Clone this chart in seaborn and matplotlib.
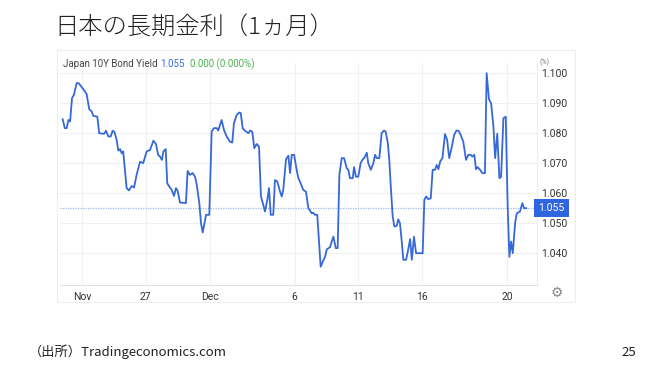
import numpy as np
import pandas as pd
import matplotlib
matplotlib.use("Agg")
import matplotlib.pyplot as plt
import matplotlib.transforms as mtransforms
from matplotlib.patches import Rectangle
import seaborn as sns

# ---- data (x = trading-day index, 0 = Nov 22; y = yield %) ----
days = [-0.91, -0.81, -0.72, -0.64, -0.56, -0.47, -0.38, -0.25, -0.16, 0.06,
        0.22, 0.34, 0.46, 0.53, 0.72, 0.81, 1.04, 1.13, 1.24, 1.35,
        1.44, 1.52, 1.63, 1.71, 1.79, 1.87, 1.94, 2.02, 2.10, 2.21,
        2.34, 2.45, 2.57, 2.73, 2.88, 3.04, 3.20, 3.36, 3.48, 3.58,
        3.67, 3.76, 3.83, 3.94, 4.01, 4.11, 4.22, 4.33, 4.42, 4.50,
        4.61, 4.89, 4.97, 5.08, 5.21, 5.32, 5.40, 5.52, 5.60, 5.68,
        5.84, 5.99, 6.10, 6.21, 6.34, 6.41, 6.57, 6.68, 6.81, 6.96,
        7.07, 7.15, 7.28, 7.40, 7.47, 7.56, 7.67, 7.83, 7.91, 8.01,
        8.11, 8.22, 8.33, 8.42, 8.53, 8.61, 8.72, 8.80, 8.88, 9.00,
        9.08, 9.19, 9.32, 9.40, 9.47, 9.60, 9.71, 9.79, 9.87, 9.98,
        10.10, 10.18, 10.29, 10.41, 10.54, 10.65, 10.73, 10.81, 10.88, 10.96,
        11.07, 11.23, 11.33, 11.44, 11.52, 11.67, 11.75, 11.83, 11.94, 12.03,
        12.11, 12.22, 12.33, 12.46, 12.53, 12.61, 12.74, 12.80, 12.89, 13.00,
        13.11, 13.21, 13.28, 13.40, 13.47, 13.59, 13.71, 13.79, 13.87, 13.99,
        14.10, 14.21, 14.29, 14.39, 14.46, 14.53, 14.62, 14.70, 14.81, 14.88,
        14.96, 15.04, 15.12, 15.25, 15.33, 15.44, 15.52, 15.62, 15.72, 16.03,
        16.11, 16.19, 16.30, 16.41, 16.50, 16.61, 16.69, 16.77, 16.85, 16.96,
        17.08, 17.18, 17.28, 17.40, 17.51, 17.62, 17.72, 17.82, 17.94, 18.07,
        18.18, 18.29, 18.37, 18.46, 18.54, 18.62, 18.73, 18.84, 18.96, 19.04,
        19.15, 19.25, 19.36, 19.44, 19.54, 19.64, 19.72, 19.83, 19.94, 20.03,
        20.11, 20.19, 20.27, 20.38, 20.46, 20.61, 20.72, 20.80, 20.92]
yields = [1.0847, 1.0817, 1.0817, 1.0844, 1.0839, 1.0917, 1.0928, 1.0967, 1.0967, 1.0947,
          1.0930, 1.0880, 1.0872, 1.0858, 1.0855, 1.0800, 1.0798, 1.0808, 1.0789, 1.0789,
          1.0808, 1.0805, 1.0778, 1.0742, 1.0747, 1.0733, 1.0739, 1.0678, 1.0617, 1.0609,
          1.0624, 1.0619, 1.0661, 1.0705, 1.0700, 1.0739, 1.0744, 1.0775, 1.0764, 1.0728,
          1.0722, 1.0711, 1.0739, 1.0747, 1.0633, 1.0622, 1.0611, 1.0591, 1.0617, 1.0608,
          1.0569, 1.0567, 1.0674, 1.0661, 1.0667, 1.0655, 1.0628, 1.0567, 1.0500, 1.0469,
          1.0528, 1.0528, 1.0805, 1.0817, 1.0817, 1.0809, 1.0844, 1.0811, 1.0789, 1.0772,
          1.0769, 1.0833, 1.0861, 1.0869, 1.0867, 1.0817, 1.0808, 1.0800, 1.0809, 1.0805,
          1.0750, 1.0764, 1.0755, 1.0589, 1.0561, 1.0539, 1.0578, 1.0617, 1.0528, 1.0528,
          1.0644, 1.0639, 1.0605, 1.0589, 1.0611, 1.0713, 1.0725, 1.0667, 1.0728, 1.0728,
          1.0678, 1.0650, 1.0633, 1.0611, 1.0605, 1.0550, 1.0542, 1.0533, 1.0535, 1.0528,
          1.0528, 1.0355, 1.0372, 1.0389, 1.0413, 1.0420, 1.0439, 1.0455, 1.0417, 1.0417,
          1.0661, 1.0717, 1.0717, 1.0683, 1.0678, 1.0650, 1.0650, 1.0687, 1.0655, 1.0655,
          1.0700, 1.0713, 1.0717, 1.0735, 1.0700, 1.0678, 1.0700, 1.0728, 1.0717, 1.0717,
          1.0800, 1.0809, 1.0805, 1.0767, 1.0711, 1.0622, 1.0522, 1.0489, 1.0491, 1.0513,
          1.0500, 1.0444, 1.0378, 1.0378, 1.0405, 1.0447, 1.0378, 1.0455, 1.0400, 1.0400,
          1.0578, 1.0589, 1.0580, 1.0583, 1.0678, 1.0678, 1.0694, 1.0680, 1.0705, 1.0717,
          1.0797, 1.0778, 1.0717, 1.0754, 1.0794, 1.0809, 1.0808, 1.0794, 1.0772, 1.0711,
          1.0728, 1.0728, 1.0722, 1.0728, 1.0680, 1.0687, 1.0678, 1.0667, 1.0667, 1.1000,
          1.0913, 1.0900, 1.0822, 1.0717, 1.0798, 1.0650, 1.0655, 1.0850, 1.0855, 1.0555,
          1.0388, 1.0439, 1.0400, 1.0500, 1.0533, 1.0539, 1.0567, 1.0550, 1.0550]

tick_days = [0, 3, 6, 10, 13, 16, 20]
tick_labels = ["Nov", "27", "Dec", "6", "11", "16", "20"]
y_ticks = [1.040, 1.050, 1.060, 1.070, 1.080, 1.090, 1.100]
last_value = 1.055

title = "日本の長期金利（1ヵ月）"
source = "（出所）Tradingeconomics.com"
page = "25"

df = pd.DataFrame({"day": days, "yield": yields})

sns.set_style("white")
plt.rcParams["font.family"] = ["Roboto", "Noto Sans CJK JP", "DejaVu Sans"]

W, H = 660, 371
fig = plt.figure(figsize=(W / 100, H / 100), dpi=100)
fig.patch.set_facecolor("white")

def fx(px):
    return px / W

def fy(py):
    return 1 - py / H

# panel border (screenshot frame)
fig.patches.append(Rectangle((fx(57), fy(302)), fx(575) - fx(57), fy(50) - fy(302),
                             transform=fig.transFigure, fill=False,
                             edgecolor="#eeeeee", linewidth=0.8, zorder=0))

ax = fig.add_axes([fx(60), fy(285), fx(537) - fx(60), fy(63) - fy(285)])
ax.set_facecolor("white")

line_color = "#3768d8"
sns.lineplot(data=df, x="day", y="yield", ax=ax, color=line_color,
             linewidth=1.3, sort=False, estimator=None, zorder=3)

ax.set_xlim(-1.035, 21.41)
ax.set_ylim(1.0294, 1.1034)

ax.set_xticks(tick_days)
ax.set_xticklabels(tick_labels)
ax.set_yticks(y_ticks)
ax.set_yticklabels([f"{v:.3f}" for v in y_ticks])
ax.yaxis.tick_right()
ax.tick_params(axis="both", length=0, labelsize=7.5, colors="#333333")
ax.tick_params(axis="x", pad=5)
ax.tick_params(axis="y", pad=3)
ax.set_xlabel("")
ax.set_ylabel("")

ax.grid(True, color="#eef0f2", linewidth=0.8, zorder=0)
for side in ["top", "left"]:
    ax.spines[side].set_visible(False)
ax.spines["bottom"].set_color("#e3e3e3")
ax.spines["right"].set_color("#ededed")
ax.spines["bottom"].set_linewidth(0.8)
ax.spines["right"].set_linewidth(0.8)

# last value dotted line and label
ax.axhline(last_value, color="#9fb8ee", linestyle=(0, (1, 1)), linewidth=0.9, zorder=2)
trans = mtransforms.blended_transform_factory(ax.transAxes, ax.transData)
ax.text(1.003, last_value, f"{last_value:.3f}", transform=trans, ha="left", va="center",
        fontsize=7.5, color="white", zorder=5, clip_on=False,
        bbox=dict(boxstyle="square,pad=0.38", fc="#2f66e0", ec="none"))

# header inside panel
t1 = fig.text(fx(63), fy(64), "Japan 10Y Bond Yield ", fontsize=7, color="#444444",
              va="center", ha="left")
fig.canvas.draw()
r = fig.canvas.get_renderer()
bb = t1.get_window_extent(renderer=r)
t2 = fig.text(bb.x1 / fig.bbox.width, fy(64), "1.055", fontsize=7, color="#3a6bd6",
              va="center", ha="left")
bb2 = t2.get_window_extent(renderer=r)
fig.text(bb2.x1 / fig.bbox.width + fx(5), fy(64), "0.000 (0.000%)", fontsize=7,
         color="#4cb050", va="center", ha="left")

fig.text(fx(540), fy(62.5), "(%)", fontsize=5, color="#777777", va="center", ha="left")
fig.text(fx(557), fy(293), "\u2699", fontsize=10, color="#888888", va="center", ha="center",
         family=["DejaVu Sans"])

# slide title and footer
fig.text(fx(54), fy(28), title, fontsize=17.5, color="#222222", va="center", ha="left",
         fontweight="light", family=["Noto Sans CJK JP", "DejaVu Sans"])
fig.text(fx(29), fy(352), source, fontsize=9.5, color="#222222", va="center", ha="left",
         family=["Noto Sans CJK JP", "DejaVu Sans"])
fig.text(fx(636), fy(352), page, fontsize=9.5, color="#222222", va="center", ha="right",
         family=["Noto Sans CJK JP", "DejaVu Sans"])

fig.savefig("out.png", dpi=100, facecolor="white")
